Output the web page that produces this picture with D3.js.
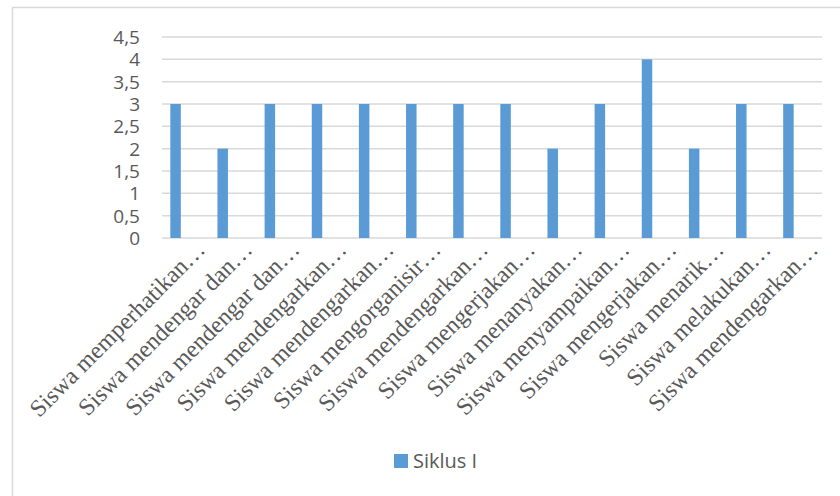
<!DOCTYPE html>
<html>
<head>
<meta charset="utf-8">
<script src="https://cdn.jsdelivr.net/npm/d3@7"></script>
<style>
  body { margin: 0; background: #fff; }
  .cat { font-family: "Liberation Serif", "DejaVu Serif", serif; }
  .sans { font-family: "Open Sans", "Liberation Sans", sans-serif; }
</style>
</head>
<body>
<div id="chart"></div>
<script>
const categories = [
    "Siswa memperhatikan…",
    "Siswa mendengar dan…",
    "Siswa mendengar dan…",
    "Siswa mendengarkan…",
    "Siswa mendengarkan…",
    "Siswa mengorganisir…",
    "Siswa mendengarkan…",
    "Siswa mengerjakan…",
    "Siswa menanyakan…",
    "Siswa menyampaikan…",
    "Siswa mengerjakan…",
    "Siswa menarik…",
    "Siswa melakukan…",
    "Siswa mendengarkan…"
];
const siklusI = [3, 2, 3, 3, 3, 3, 3, 3, 2, 3, 4, 2, 3, 3];
const yTicks = [0, 0.5, 1, 1.5, 2, 2.5, 3, 3.5, 4, 4.5];
const seriesName = "Siklus I";

const W = 840, H = 496;
const barColor = "#5b9bd5";
const textColor = "#595959";

const svg = d3.select("#chart").append("svg")
    .attr("width", W)
    .attr("height", H);

// chart frame (only top and left edges fall inside the picture)
svg.append("rect")
    .attr("x", 12.5).attr("y", 7.5)
    .attr("width", 840).attr("height", 500)
    .attr("fill", "none")
    .attr("stroke", "#d9d9d9")
    .attr("stroke-width", 1.5);

const x = d3.scaleBand()
    .domain(d3.range(categories.length))
    .range([152, 812]);

const y = d3.scaleLinear()
    .domain([0, 4.5])
    .range([238, 37]);

const fmt = d => String(d).replace(".", ",");

// gridlines
svg.append("g")
    .selectAll("line")
    .data(yTicks)
    .join("line")
    .attr("x1", 162).attr("x2", 822)
    .attr("y1", d => y(d)).attr("y2", d => y(d))
    .attr("stroke", "#d9d9d9")
    .attr("stroke-width", 1.5);

// y tick labels
svg.append("g")
    .selectAll("text")
    .data(yTicks)
    .join("text")
    .attr("class", "sans")
    .attr("x", 140)
    .attr("y", d => y(d))
    .attr("dy", "0.36em")
    .attr("text-anchor", "end")
    .attr("fill", textColor)
    .style("font-size", "19px")
    .text(fmt);

// bars
const barW = 10.5;
svg.append("g")
    .selectAll("rect")
    .data(siklusI)
    .join("rect")
    .attr("x", (d, i) => x(i) + x.bandwidth() / 2 - barW / 2)
    .attr("y", d => y(d))
    .attr("width", barW)
    .attr("height", d => y(0) - y(d))
    .attr("fill", barColor);

// category labels, rotated
svg.append("g")
    .selectAll("text")
    .data(categories)
    .join("text")
    .attr("class", "cat")
    .attr("transform", (d, i) => `translate(${x(i) + x.bandwidth() / 2 + 31},${251}) rotate(-45)`)
    .attr("text-anchor", "end")
    .attr("fill", textColor)
    .style("font-size", "24px")
    .text(d => d);

// legend
const legend = svg.append("g").attr("transform", "translate(394,454)");
legend.append("rect")
    .attr("width", 14).attr("height", 14)
    .attr("fill", barColor);
legend.append("text")
    .attr("class", "sans")
    .attr("x", 19).attr("y", 7)
    .attr("dy", "0.36em")
    .attr("fill", textColor)
    .style("font-size", "20px")
    .text(seriesName);
</script>
</body>
</html>
